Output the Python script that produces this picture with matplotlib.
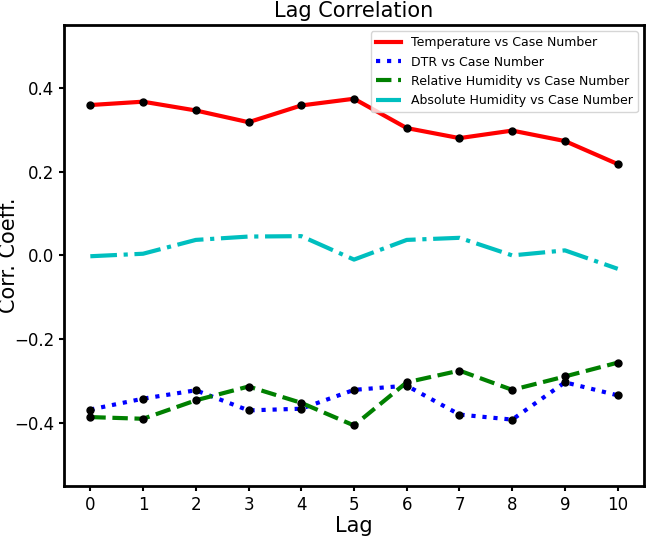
import matplotlib
matplotlib.use("Agg")
import matplotlib.pyplot as plt
import numpy as np

# lag values and correlation coefficients
lags = np.arange(0, 11)
temperature = [0.359, 0.367, 0.346, 0.318, 0.358, 0.374, 0.304, 0.280, 0.298, 0.273, 0.218]
dtr = [-0.368, -0.342, -0.322, -0.370, -0.366, -0.321, -0.311, -0.380, -0.392, -0.303, -0.334]
rel_humidity = [-0.386, -0.390, -0.346, -0.313, -0.352, -0.406, -0.303, -0.275, -0.321, -0.289, -0.256]
abs_humidity = [-0.002, 0.004, 0.037, 0.045, 0.046, -0.010, 0.037, 0.042, 0.000, 0.012, -0.032]

fig = plt.figure(figsize=(6.46, 5.44), dpi=100)
ax = fig.add_axes([0.099, 0.107, 0.898, 0.847])

ax.plot(lags, temperature, color='r', linestyle='-', linewidth=3, label='Temperature vs Case Number')
ax.plot(lags, dtr, color='b', linestyle=':', linewidth=3, label='DTR vs Case Number')
ax.plot(lags, rel_humidity, color='g', linestyle='--', linewidth=3, label='Relative Humidity vs Case Number')
ax.plot(lags, abs_humidity, color='c', linestyle='-.', linewidth=3, label='Absolute Humidity vs Case Number')

# black dots on the three marked series
for series in (temperature, dtr, rel_humidity):
    ax.plot(lags, series, 'k.', markersize=10)

ax.set_xlim(-0.5, 10.5)
ax.set_ylim(-0.55, 0.55)
ax.set_xticks(lags)
ax.set_yticks([-0.4, -0.2, 0.0, 0.2, 0.4])
ax.tick_params(labelsize=12, width=1.5)
for s in ax.spines.values():
    s.set_linewidth(2)

ax.set_title('Lag Correlation', fontsize=15)
ax.set_xlabel('Lag', fontsize=15, labelpad=2)
ax.set_ylabel('Corr. Coeff.', fontsize=15)
ax.yaxis.set_label_coords(-0.078, 0.5)
ax.legend(loc='upper right', fontsize=9)

fig.savefig('out.png', dpi=100)
